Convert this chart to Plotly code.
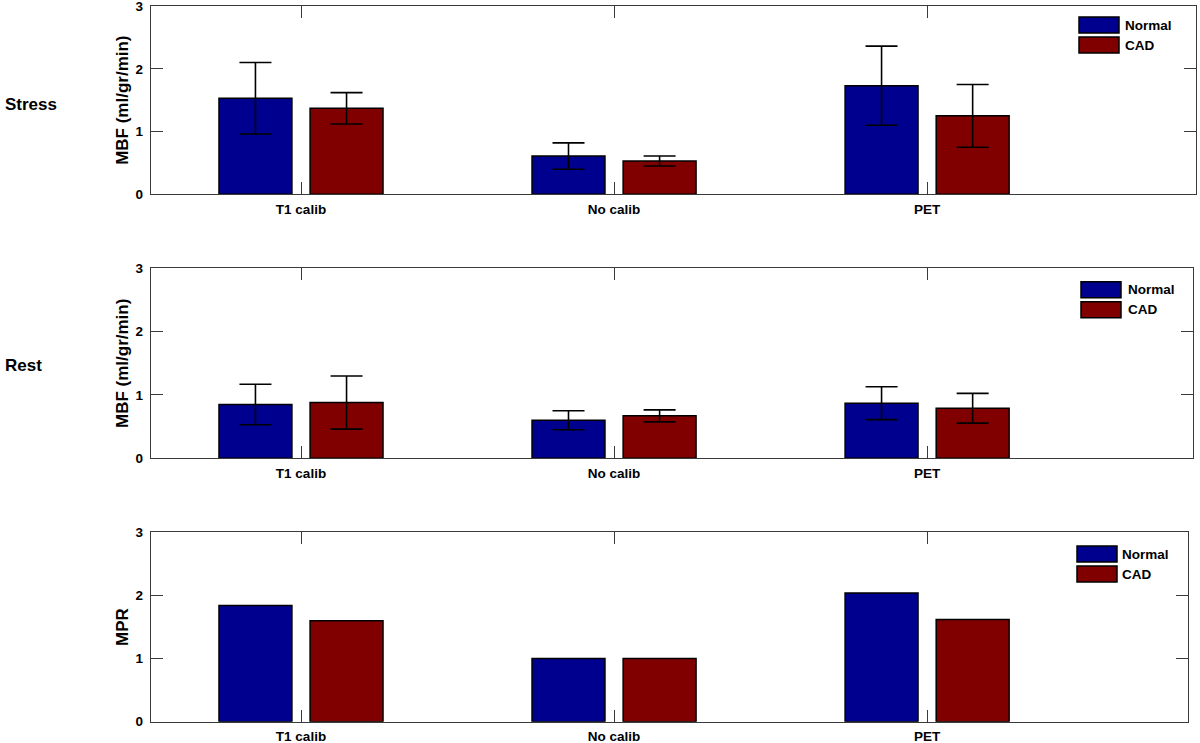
import plotly.graph_objects as go

# ---- data ----
categories = ["T1 calib", "No calib", "PET"]
series_names = ["Normal", "CAD"]

stress_normal = [1.53, 0.61, 1.73]
stress_normal_err = [0.57, 0.21, 0.63]
stress_cad = [1.37, 0.53, 1.25]
stress_cad_err = [0.25, 0.08, 0.50]

rest_normal = [0.85, 0.60, 0.87]
rest_normal_err = [0.32, 0.15, 0.26]
rest_cad = [0.88, 0.67, 0.79]
rest_cad_err = [0.42, 0.095, 0.235]

mpr_normal = [1.84, 1.00, 2.04]
mpr_cad = [1.60, 1.00, 1.62]

y_ticks = [0, 1, 2, 3]
row_labels = ["Stress", "Rest", ""]
y_titles = ["MBF (ml/gr/min)", "MBF (ml/gr/min)", "MPR"]

# ---- style ----
W, H = 1200, 743
BLUE = "#00008F"
RED = "#800000"
FONT = "Liberation Sans"
AXC = "#3a3a3a"


def px(x):
    return x / W


def py(y):
    return 1 - y / H


fig = go.Figure()

panels = [
    (stress_normal, stress_normal_err, stress_cad, stress_cad_err),
    (rest_normal, rest_normal_err, rest_cad, rest_cad_err),
    (mpr_normal, None, mpr_cad, None),
]

# panel pixel boxes: left, right, top, bottom
boxes = [
    (150.7, 1195.7, 6.0, 194.3),
    (150.7, 1192.7, 268.3, 458.3),
    (150.7, 1187.7, 532.3, 721.7),
]
legend_pos = [
    (1079, 17, 1123),
    (1081, 281.7, 1126),
    (1077, 546, 1120),
]
label_y = [104, 365, None]

BW = 0.233
OFF_N = -0.262
OFF_C = 0.029
PX_PER_UNIT = 313.06

for i, (nv, ne, cv, ce) in enumerate(panels):
    k = "" if i == 0 else str(i + 1)
    xa, ya = "x" + k, "y" + k
    for vals, errs, col, off, name in [
        (nv, ne, BLUE, OFF_N, series_names[0]),
        (cv, ce, RED, OFF_C, series_names[1]),
    ]:
        eb = None
        if errs is not None:
            eb = dict(type="data", array=errs, color="black", thickness=1.6, width=16, visible=True)
        fig.add_trace(go.Bar(
            x=categories, y=vals, name=name, xaxis=xa, yaxis=ya,
            offset=off, width=BW,
            marker=dict(color=col, line=dict(color="black", width=1.5)),
            error_y=eb, showlegend=False,
        ))

    L, R, T, B = boxes[i]
    right_units = 2 + (R - 927.1) / PX_PER_UNIT
    left_units = -(301.0 - L) / PX_PER_UNIT
    axis_common = dict(
        showline=True, linecolor=AXC, linewidth=1, mirror="ticks",
        ticks="inside", ticklen=12, tickcolor=AXC, tickwidth=1,
        showgrid=False, zeroline=False, automargin=False,
        ticklabeloverflow="allow",
        tickfont=dict(family=FONT, size=13.5, color="black", weight="bold"),
    )
    fig.update_layout(**{
        ("xaxis" + k): dict(
            domain=[px(L), px(R)], anchor=ya, range=[left_units, right_units],
            type="category", categoryorder="array", categoryarray=categories,
            ticklabelstandoff=2,
            **axis_common,
        ),
        ("yaxis" + k): dict(
            domain=[py(B), py(T)], anchor=xa, range=[0, 3], tickvals=y_ticks,
            ticklabelstandoff=4,
            title=dict(text=y_titles[i], standoff=2,
                       font=dict(family=FONT, size=17, color="black", weight="bold")),
            **axis_common,
        ),
    })

    # legend (swatches + text)
    lx, ly, tx = legend_pos[i]
    for j, (col, name) in enumerate([(BLUE, series_names[0]), (RED, series_names[1])]):
        y0 = ly + j * 20
        fig.add_shape(type="rect", xref="paper", yref="paper",
                      x0=px(lx), x1=px(lx + 40), y0=py(y0), y1=py(y0 + 16),
                      fillcolor=col, line=dict(color="black", width=1.5))
        fig.add_annotation(xref="paper", yref="paper", x=px(tx), y=py(y0 + 8),
                           text=name, showarrow=False, xanchor="left", yanchor="middle",
                           font=dict(family=FONT, size=13.5, color="black", weight="bold"))

    if row_labels[i]:
        fig.add_annotation(xref="paper", yref="paper", x=px(3), y=py(label_y[i]),
                           text=row_labels[i], showarrow=False, xanchor="left", yanchor="middle",
                           font=dict(family=FONT, size=17, color="black", weight="bold"))

fig.update_layout(
    width=W, height=H,
    margin=dict(l=0, r=0, t=0, b=0),
    paper_bgcolor="white", plot_bgcolor="white",
    barmode="overlay", showlegend=False,
    template="none",
)

fig.write_html(
    "out.html",
    config={"displayModeBar": False},
    post_script="document.body.style.margin='0';document.body.style.padding='0';",
)
